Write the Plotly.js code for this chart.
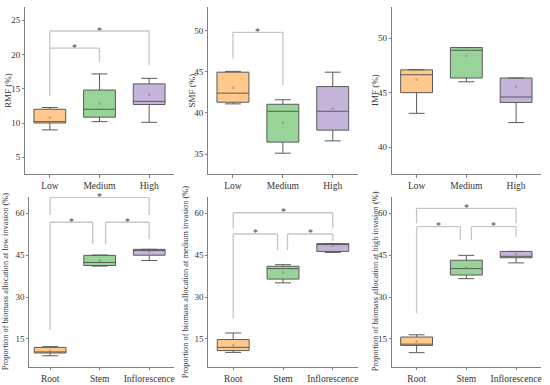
<!DOCTYPE html>
<html><head><meta charset="utf-8">
<script src="https://cdn.plot.ly/plotly-3.0.1.min.js"></script>
<style>html,body{margin:0;padding:0;background:#fff}#chart{width:550px;height:385px}</style>
</head><body><div id="chart"></div>
<script>
// ---- data ----
const invasionLevels = ['Low', 'Medium', 'High'];
const organs = ['Root', 'Stem', 'Inflorescence'];
// box statistics per invasion level (Low, Medium, High)
const rmfLower  = [9.0, 10.2, 10.1];
const rmfQ1     = [10.0, 10.85, 12.7];
const rmfMedian = [10.2, 12.0, 13.15];
const rmfQ3     = [12.0, 14.8, 15.7];
const rmfUpper  = [12.25, 17.15, 16.5];
const rmfMean   = [10.8, 12.8, 14.1];
const smfLower  = [41.1, 35.1, 36.6];
const smfQ1     = [41.3, 36.45, 37.9];
const smfMedian = [42.4, 40.2, 40.2];
const smfQ3     = [44.95, 41.05, 43.2];
const smfUpper  = [45.05, 41.6, 44.95];
const smfMean   = [43.05, 38.8, 40.5];
const imfLower  = [43.1, 46.0, 42.25];
const imfQ1     = [45.0, 46.35, 44.1];
const imfMedian = [46.65, 48.9, 44.6];
const imfQ3     = [47.1, 49.15, 46.35];
const imfUpper  = [47.1, 49.15, 46.35];
const imfMean   = [46.2, 48.4, 45.55];
const yTitles = ['RMF (%)', 'SMF (%)', 'IMF (%)',
  'Proportion of biomass allocation at low invasion (%)',
  'Proportion of biomass allocation at medium invasion (%)',
  'Proportion of biomass allocation at high invasion (%)'];
// significance brackets: [cat A, cat B, bar height, leg A end, leg B end]
const sigRMF = [[0, 1, 20.9, 13.9, 18.9], [0, 2, 23.4, 20.9, 18.4]];
const sigSMF = [[0, 1, 49.8, 46.6, 43.4]];
const sigIMF = [];
const sigLow = [[0, 0.86, 56.8, 18.2, 49.0], [1.12, 2, 56.8, 49.0, 50.7], [0, 2, 65.7, 59.4, 59.4]];
const sigMedium = [[0, 0.89, 52.6, 22.4, 46.9], [1.09, 2, 52.6, 46.9, 50.2], [0, 2, 60.2, 54.6, 54.6]];
const sigHigh = [[0, 0.88, 55.2, 24.2, 50.4], [1.1, 2, 55.2, 50.4, 51.6], [0, 2, 61.8, 56.4, 56.4]];

// ---- build ----
const fills = ['#FFC98C', '#98D398', '#C6B3DA'];
const boxLine = '#5a5a5a';
const FONT = 'Liberation Serif, Times New Roman, serif';

const panels = [
  {cats: invasionLevels, stats: [rmfLower, rmfQ1, rmfMedian, rmfQ3, rmfUpper, rmfMean], sig: sigRMF},
  {cats: invasionLevels, stats: [smfLower, smfQ1, smfMedian, smfQ3, smfUpper, smfMean], sig: sigSMF},
  {cats: invasionLevels, stats: [imfLower, imfQ1, imfMedian, imfQ3, imfUpper, imfMean], sig: sigIMF},
];
const sigBottom = [sigLow, sigMedium, sigHigh];
const groups = [
  [rmfLower, smfLower, imfLower], [rmfQ1, smfQ1, imfQ1], [rmfMedian, smfMedian, imfMedian],
  [rmfQ3, smfQ3, imfQ3], [rmfUpper, smfUpper, imfUpper], [rmfMean, smfMean, imfMean]];
for (let lv = 0; lv < 3; lv++) {
  panels.push({cats: organs, stats: groups.map(g => g.map(arr => arr[lv])), sig: sigBottom[lv]});
}

const W = 550, H = 385;
const xDom = [[25, 174], [208, 357.7], [391.7, 541], [29.3, 174], [208.3, 357.7], [391.7, 541]];
const yDom = [[7, 174], [7, 174], [7, 174], [197, 366.7], [197, 366.7], [197, 366.7]];
const xRanges = [[-0.5, 2.5], [-0.5, 2.5], [-0.5, 2.5], [-0.42, 2.5], [-0.5, 2.5], [-0.5, 2.5]];
const yRanges = [[2.57, 26.9], [32.57, 52.88], [37.52, 52.88], [5.08, 65.84], [5.08, 65.84], [5.08, 65.84]];
const yTicks = [[5, 10, 15, 20, 25], [35, 40, 45, 50], [40, 45, 50], [15, 30, 45, 60], [15, 30, 45, 60], [15, 30, 45, 60]];
const titleX = [7.5, 191, 374.5, 5.5, 185.5, 375.5];
const titleSize = [9, 9, 9, 8.4, 8.4, 8.4];

const traces = [], shapes = [], annotations = [];
const layout = {
  width: W, height: H, margin: {l: 0, r: 0, t: 0, b: 0},
  paper_bgcolor: '#fff', plot_bgcolor: '#fff', showlegend: false,
  font: {family: FONT, size: 9, color: '#333'},
  boxmode: 'overlay'
};

panels.forEach((p, i) => {
  const xa = 'x' + (i ? i + 1 : ''), ya = 'y' + (i ? i + 1 : '');
  const [lo, q1, med, q3, up, mean] = p.stats;
  p.cats.forEach((c, k) => {
    traces.push({
      type: 'box', xaxis: xa, yaxis: ya, x: [c],
      lowerfence: [lo[k]], q1: [q1[k]], median: [med[k]], q3: [q3[k]], upperfence: [up[k]],
      fillcolor: fills[k], line: {color: boxLine, width: 1}, width: 0.64, whiskerwidth: 0.5,
      hoverinfo: 'skip'
    });
  });
  traces.push({type: 'scatter', mode: 'markers', xaxis: xa, yaxis: ya, x: p.cats, y: mean,
    marker: {size: 2.5, color: 'rgba(120,120,120,0.5)'}, hoverinfo: 'skip', cliponaxis: false});

  layout['xaxis' + (i ? i + 1 : '')] = {
    domain: [xDom[i][0] / W, xDom[i][1] / W], anchor: ya, type: 'category',
    categoryorder: 'array', categoryarray: p.cats, range: xRanges[i],
    showline: true, linecolor: '#808080', linewidth: 1, mirror: false,
    ticks: 'outside', ticklen: 2.5, tickcolor: '#808080', showgrid: false, zeroline: false,
    tickfont: {family: FONT, size: 9.5, color: '#333'}, fixedrange: true
  };
  layout['yaxis' + (i ? i + 1 : '')] = {
    domain: [1 - yDom[i][1] / H, 1 - yDom[i][0] / H], anchor: xa, range: yRanges[i],
    tickvals: yTicks[i], showline: true, linecolor: '#808080', linewidth: 1,
    ticks: 'outside', ticklen: 2, tickcolor: '#808080', showgrid: false, zeroline: false,
    tickfont: {family: FONT, size: 9, color: '#333'}, fixedrange: true
  };

  annotations.push({xref: 'paper', yref: 'paper', x: titleX[i] / W,
    y: 1 - ((yDom[i][0] + yDom[i][1]) / 2) / H, text: yTitles[i], textangle: -90,
    showarrow: false, xanchor: 'center', yanchor: 'middle',
    font: {family: FONT, size: titleSize[i], color: '#333'}});

  const bl = {color: '#c6c6c6', width: 1.3};
  p.sig.forEach(s => {
    const [a, b, top, la, lb] = s;
    shapes.push({type: 'line', xref: xa, yref: ya, x0: a, x1: a, y0: la, y1: top, line: bl});
    shapes.push({type: 'line', xref: xa, yref: ya, x0: a, x1: b, y0: top, y1: top, line: bl});
    shapes.push({type: 'line', xref: xa, yref: ya, x0: b, x1: b, y0: top, y1: lb, line: bl});
    annotations.push({xref: xa, yref: ya, x: (a + b) / 2, y: top, text: '*', showarrow: false,
      xanchor: 'center', yanchor: 'middle', yshift: 1, font: {family: FONT, size: 10, color: '#444'}});
  });
});
layout.shapes = shapes;
layout.annotations = annotations;
Plotly.newPlot('chart', traces, layout, {staticPlot: true, displayModeBar: false});
</script></body></html>
